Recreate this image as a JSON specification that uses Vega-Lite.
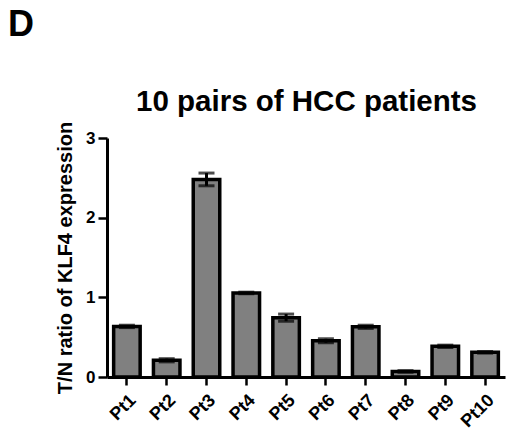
{
  "$schema": "https://vega.github.io/schema/vega-lite/v6.json",
  "autosize": {"type": "none"},
  "padding": {"left": 107, "top": 138, "right": 1, "bottom": 67},
  "width": 398,
  "height": 239,
  "background": "white",
  "config": {
    "font": "Liberation Sans",
    "view": {"stroke": null}
  },
  "title": {
    "text": "D",
    "anchor": "start",
    "frame": "group",
    "fontSize": 36,
    "fontWeight": "bold",
    "color": "black",
    "baseline": "alphabetic",
    "offset": 0,
    "dx": -99,
    "dy": -14
  },
  "data": {
    "values": [
      {"patient": "Pt1", "ratio": 0.635, "lo": 0.62, "hi": 0.65},
      {"patient": "Pt2", "ratio": 0.21, "lo": 0.19, "hi": 0.23},
      {"patient": "Pt3", "ratio": 2.48, "lo": 2.40, "hi": 2.56},
      {"patient": "Pt4", "ratio": 1.055, "lo": 1.045, "hi": 1.065},
      {"patient": "Pt5", "ratio": 0.745, "lo": 0.70, "hi": 0.79},
      {"patient": "Pt6", "ratio": 0.455, "lo": 0.43, "hi": 0.48},
      {"patient": "Pt7", "ratio": 0.63, "lo": 0.61, "hi": 0.65},
      {"patient": "Pt8", "ratio": 0.07, "lo": 0.06, "hi": 0.08},
      {"patient": "Pt9", "ratio": 0.385, "lo": 0.37, "hi": 0.40},
      {"patient": "Pt10", "ratio": 0.31, "lo": 0.30, "hi": 0.32}
    ]
  },
  "resolve": {"axis": {"x": "independent"}},
  "layer": [
    {
      "mark": {"type": "bar", "fill": "#808080", "stroke": "black", "strokeWidth": 3.5},
      "encoding": {
        "x": {
          "field": "patient",
          "type": "nominal",
          "sort": null,
          "scale": {"paddingInner": 0.334, "paddingOuter": 0.167},
          "axis": {
            "title": null,
            "labelAngle": -45,
            "labelFontSize": 18,
            "labelFontWeight": "bold",
            "labelColor": "black",
            "labelPadding": 6,
            "tickSize": 8,
            "tickWidth": 2.5,
            "tickColor": "black",
            "domainColor": "black",
            "domainWidth": 3
          }
        },
        "y": {
          "field": "ratio",
          "type": "quantitative",
          "scale": {"domain": [0, 3]},
          "axis": {
            "title": "T/N ratio of KLF4 expression",
            "titleFontSize": 20,
            "titleFontWeight": "bold",
            "titleColor": "black",
            "titlePadding": 10,
            "values": [0, 1, 2, 3],
            "format": "d",
            "grid": false,
            "labelFontSize": 17,
            "labelFontWeight": "bold",
            "labelColor": "black",
            "labelPadding": 3,
            "tickSize": 9,
            "tickWidth": 2.5,
            "tickColor": "black",
            "domainColor": "black",
            "domainWidth": 3
          }
        }
      }
    },
    {
      "mark": {"type": "rule", "color": "black", "strokeWidth": 3},
      "encoding": {
        "x": {
          "field": "patient",
          "type": "nominal",
          "sort": null,
          "axis": {
            "orient": "top",
            "title": "10 pairs of HCC patients",
            "titleFontSize": 29.5,
            "titleFontWeight": "bold",
            "titleColor": "black",
            "titlePadding": 22,
            "labels": false,
            "ticks": false,
            "domain": false
          }
        },
        "y": {"field": "lo", "type": "quantitative"},
        "y2": {"field": "hi"}
      }
    },
    {
      "mark": {"type": "tick", "color": "black", "thickness": 3, "size": 16},
      "encoding": {
        "x": {"field": "patient", "type": "nominal", "sort": null, "axis": null},
        "y": {"field": "hi", "type": "quantitative"}
      }
    },
    {
      "mark": {"type": "tick", "color": "black", "thickness": 3, "size": 16},
      "encoding": {
        "x": {"field": "patient", "type": "nominal", "sort": null, "axis": null},
        "y": {"field": "lo", "type": "quantitative"}
      }
    }
  ]
}
